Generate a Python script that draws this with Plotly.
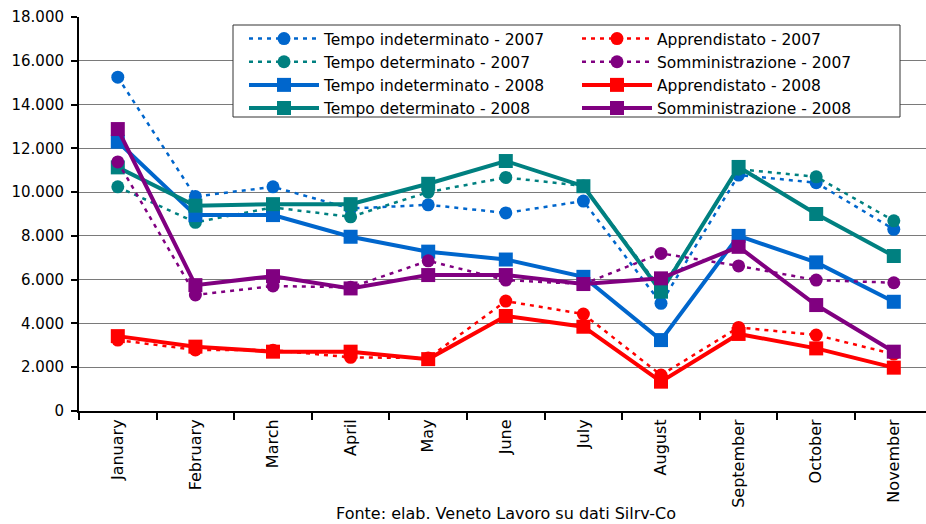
import plotly.graph_objects as go

months = ["January", "February", "March", "April", "May", "June", "July",
          "August", "September", "October", "November"]

ti_2007 = [15250, 9800, 10240, 9250, 9420, 9050, 9590, 4920, 10780, 10430, 8300]
td_2007 = [10240, 8620, 9300, 8870, 10000, 10670, 10280, 5550, 11050, 10700, 8690]
ap_2007 = [3240, 2790, 2780, 2450, 2420, 5020, 4430, 1640, 3820, 3470, 2600]
so_2007 = [11380, 5300, 5710, 5650, 6860, 5980, 5800, 7200, 6630, 5980, 5860]

ti_2008 = [12300, 8950, 8950, 7960, 7280, 6920, 6130, 3240, 8000, 6790, 4990]
td_2008 = [11130, 9380, 9450, 9450, 10380, 11420, 10270, 5450, 11150, 9000, 7080]
ap_2008 = [3420, 2940, 2710, 2710, 2370, 4340, 3850, 1340, 3520, 2860, 1980]
so_2008 = [12880, 5750, 6160, 5600, 6210, 6210, 5800, 6060, 7500, 4840, 2710]

source_text = "Fonte: elab. Veneto Lavoro su dati Silrv-Co"

BLUE = "#0066CC"
TEAL = "#008080"
RED = "#FF0000"
PURPLE = "#800080"

FONT = "DejaVu Sans"

# plot area geometry (pixels)
L, R, T, B = 79, 0, 17, 113
W, H = 926, 524
PW, PH = W - L - R, H - T - B


def px_x(px):
    return (px - L) / PW


def px_y(py):
    return 1 - (py - T) / PH


fig = go.Figure()


def dotted(name, y, color, legend):
    fig.add_trace(go.Scatter(
        x=months, y=y, name=name, mode="lines+markers",
        line=dict(color=color, width=2.5, dash="4px,5px"),
        marker=dict(symbol="circle", size=13, color=color),
        legend=legend,
    ))


def solid(name, y, color, legend):
    fig.add_trace(go.Scatter(
        x=months, y=y, name=name, mode="lines+markers",
        line=dict(color=color, width=4),
        marker=dict(symbol="square", size=14, color=color),
        legend=legend,
    ))


dotted("Tempo indeterminato - 2007", ti_2007, BLUE, "legend")
dotted("Tempo determinato - 2007", td_2007, TEAL, "legend")
solid("Tempo indeterminato - 2008", ti_2008, BLUE, "legend")
solid("Tempo determinato - 2008", td_2008, TEAL, "legend")
dotted("Apprendistato - 2007", ap_2007, RED, "legend2")
dotted("Somministrazione - 2007", so_2007, PURPLE, "legend2")
solid("Apprendistato - 2008", ap_2008, RED, "legend2")
solid("Somministrazione - 2008", so_2008, PURPLE, "legend2")

legend_common = dict(
    font=dict(family=FONT, size=15.5, color="black"),
    bgcolor="rgba(0,0,0,0)",
    borderwidth=0,
    itemwidth=70,
    tracegroupgap=0,
    xanchor="left",
    yanchor="top",
    traceorder="normal",
)

fig.update_layout(
    width=W, height=H,
    margin=dict(l=L, r=R, t=T, b=B, pad=0),
    paper_bgcolor="white",
    plot_bgcolor="white",
    separators=",.",
    font=dict(family=FONT, color="black"),
    showlegend=True,
    legend=dict(x=px_x(244), y=px_y(22), **legend_common),
    legend2=dict(x=px_x(577), y=px_y(22), **legend_common),
    xaxis=dict(
        type="category",
        range=[-0.5, -0.5 + PW / 77.6],
        showgrid=False,
        showline=True, linecolor="black", linewidth=2,
        ticks="outside", ticklen=7, tickwidth=2, tickcolor="black",
        tickson="boundaries",
        tickangle=-90,
        tickfont=dict(family=FONT, size=16, color="black"),
        zeroline=False,
    ),
    yaxis=dict(
        range=[0, 18000],
        dtick=2000,
        tickformat=",d",
        showgrid=True, gridcolor="#7a7a7a", gridwidth=1,
        showline=True, linecolor="black", linewidth=2,
        ticks="outside", ticklen=6, tickwidth=2, tickcolor="black",
        tickfont=dict(family=FONT, size=15, color="black"),
        ticklabelstandoff=4,
        zeroline=False,
    ),
    shapes=[dict(
        type="rect", xref="paper", yref="paper",
        x0=px_x(233), x1=px_x(900), y0=px_y(117), y1=px_y(25),
        line=dict(color="#333333", width=1),
        fillcolor="white", layer="above",
    )],
    annotations=[dict(
        text=source_text, xref="paper", yref="paper",
        x=px_x(506), y=px_y(513), xanchor="center", yanchor="middle",
        showarrow=False, font=dict(family=FONT, size=16, color="black"),
    )],
)

fig.write_html(
    "out.html",
    config={"displayModeBar": False},
    post_script="document.body.style.margin='0';document.body.style.padding='0';",
)
